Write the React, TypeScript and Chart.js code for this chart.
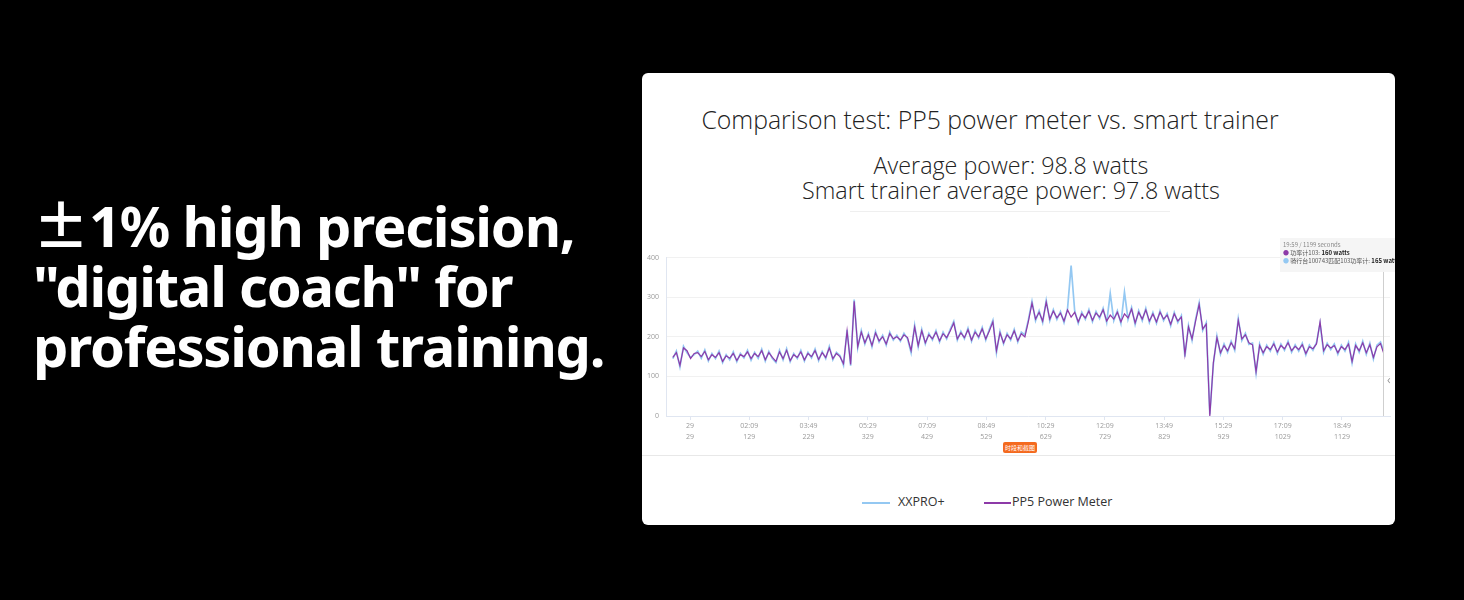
import React, { useEffect, useRef } from "react";
import { Chart, registerables } from "chart.js";

Chart.register(...registerables);

// ---- data ----
const SAMPLE_STEP = 6; // seconds between samples
const LAST_SECOND = 1199;

const pp5Watts = [
  148, 160, 128, 172, 165, 145, 158, 160, 150, 163, 142, 155, 148, 160, 138, 152, 146, 158, 140, 155,
  150, 162, 145, 158, 150, 165, 142, 160, 148, 138, 162, 145, 166, 140, 155, 148, 162, 142, 158, 150,
  165, 143, 160, 148, 172, 145, 158,
  150, 132, 215, 130, 290, 175, 212, 185, 205, 178, 210, 190, 200, 182, 208, 195, 200, 192, 205, 198,
  165, 225, 178, 215, 185, 205, 195, 212, 190, 208, 198, 215, 235, 195, 210, 198, 218, 192, 212, 200,
  220, 195, 215, 238, 165, 210, 185, 205, 195, 215, 190, 208, 200,
  240, 285, 245, 262, 240, 288, 245, 265, 248, 260, 240, 268, 250, 262, 238, 258, 248, 265, 242, 260,
  250, 268, 240, 255, 245, 262, 238, 258, 248, 270, 235, 262, 245, 268, 240, 258, 238, 262, 245, 255,
  232, 258, 240, 250, 155, 225, 195, 240, 282, 220, 232,
  0, 135, 198, 160, 178, 165, 185, 170, 242, 195, 205, 185, 180, 112, 178, 160, 175, 168, 182, 162,
  178, 170, 185, 165, 176, 168, 180, 158, 175, 170, 182, 238, 165, 180, 172, 178, 160, 175, 168, 182,
  138, 178, 165, 185, 160, 180, 148, 175, 183, 160,
];

const xxproWatts = [
  145, 164, 124, 176, 160, 148, 155, 164, 146, 167, 139, 158, 145, 164, 135, 155, 142, 162, 137, 158,
  147, 166, 141, 161, 146, 169, 139, 163, 145, 135, 166, 142, 170, 137, 158, 145, 166, 139, 161, 147,
  169, 140, 163, 145, 176, 142, 161,
  153, 128, 218, 127, 294, 172, 216, 182, 208, 175, 214, 187, 204, 179, 212, 192, 204, 189, 209, 195,
  160, 229, 175, 219, 182, 209, 192, 216, 187, 212, 195, 219, 239, 192, 214, 195, 222, 189, 216, 197,
  224, 192, 219, 242, 160, 214, 182, 209, 192, 219, 187, 212, 205,
  244, 290, 241, 266, 236, 292, 241, 269, 244, 264, 236, 272, 380, 266, 234, 262, 244, 269, 238, 264,
  246, 272, 236, 310, 241, 266, 234, 313, 244, 274, 231, 266, 241, 272, 236, 262, 234, 266, 241, 259,
  228, 262, 236, 254, 150, 229, 191, 244, 286, 216, 236,
  4, 131, 202, 156, 182, 161, 189, 166, 246, 191, 209, 181, 184, 108, 182, 156, 179, 164, 186, 158,
  182, 166, 189, 161, 180, 164, 184, 154, 179, 166, 186, 234, 161, 184, 168, 182, 156, 179, 164, 186,
  134, 182, 161, 189, 156, 184, 144, 179, 187, 165,
];

const tickSeconds = [29, 129, 229, 329, 429, 529, 629, 729, 829, 929, 1029, 1129];
const tickClockLabels = ["29", "02:09", "03:49", "05:29", "07:09", "08:49", "10:29", "12:09", "13:49", "15:29", "17:09", "18:49"];
const tickSecondLabels = ["29", "129", "229", "329", "429", "529", "629", "729", "829", "929", "1029", "1129"];
const yTickValues = [0, 100, 200, 300, 400];

const seriesNames = ["PP5 Power Meter", "XXPRO+"];
const seriesColors = ["#8d3aa8", "#94c8f2"];

const TITLE = "Comparison test: PP5 power meter vs. smart trainer";
const SUB1 = "Average power: 98.8 watts";
const SUB2 = "Smart trainer average power: 97.8 watts";

const toPoints = (vals: number[]) =>
  vals.map((v, i) => ({ x: Math.min(i * SAMPLE_STEP, LAST_SECOND), y: v }));

const crosshairPlugin = {
  id: "crosshair",
  afterDatasetsDraw(chart: any) {
    const { ctx, chartArea, scales } = chart;
    const x = scales.x.getPixelForValue(LAST_SECOND);
    ctx.save();
    ctx.strokeStyle = "#cfcfcf";
    ctx.lineWidth = 1;
    ctx.beginPath();
    ctx.moveTo(Math.round(x) + 0.5, chartArea.top);
    ctx.lineTo(Math.round(x) + 0.5, chartArea.bottom);
    ctx.stroke();
    ctx.restore();
  },
};

function PowerChart() {
  const ref = useRef<HTMLCanvasElement | null>(null);
  useEffect(() => {
    if (!ref.current) return;
    const chart = new Chart(ref.current, {
      type: "line",
      data: {
        datasets: [
          {
            label: seriesNames[0],
            data: toPoints(pp5Watts),
            borderColor: seriesColors[0],
            borderWidth: 1.2,
            pointRadius: 0,
            tension: 0,
            order: 1,
          },
          {
            label: seriesNames[1],
            data: toPoints(xxproWatts),
            borderColor: seriesColors[1],
            borderWidth: 1.7,
            pointRadius: 0,
            tension: 0,
            order: 2,
          },
        ],
      },
      options: {
        animation: false,
        responsive: false,
        maintainAspectRatio: false,
        parsing: false as any,
        layout: { padding: { top: 17.7, right: 5, left: 0, bottom: 0 } },
        plugins: {
          legend: { display: false },
          tooltip: { enabled: false },
          title: { display: false },
        },
        scales: {
          x: {
            type: "linear",
            min: -11.5,
            max: 1210,
            afterBuildTicks: (s: any) => {
              s.ticks = tickSeconds.map((v) => ({ value: v }));
            },
            afterFit: (s: any) => {
              s.height = 34;
            },
            ticks: {
              autoSkip: false,
              maxRotation: 0,
              padding: 1,
              color: "#9a9a9a",
              font: { size: 7, family: "'Open Sans', sans-serif", lineHeight: 1.55 },
              callback: (v: any) => {
                const i = tickSeconds.indexOf(Number(v));
                return i >= 0 ? [tickClockLabels[i], tickSecondLabels[i]] : "";
              },
            },
            grid: {
              drawOnChartArea: false,
              drawTicks: true,
              tickLength: 4,
              color: "#e0e6f1",
            },
            border: { color: "#e0e6f1" },
          },
          y: {
            type: "linear",
            min: 0,
            max: 400,
            afterBuildTicks: (s: any) => {
              s.ticks = yTickValues.map((v) => ({ value: v }));
            },
            afterFit: (s: any) => {
              s.width = 24;
            },
            ticks: {
              padding: 7,
              color: "#9a9a9a",
              font: { size: 7, family: "'Open Sans', sans-serif" },
            },
            grid: { color: "#f1f1f1", drawTicks: false },
            border: { color: "#e0e6f1" },
          },
        },
      },
      plugins: [crosshairPlugin],
    });
    return () => chart.destroy();
  }, []);
  return (
    <canvas
      ref={ref}
      width={753}
      height={210}
      style={{ position: "absolute", left: 642, top: 240, width: 753, height: 210 }}
    />
  );
}

export default function App() {
  const abs = (s: React.CSSProperties): React.CSSProperties => ({ position: "absolute", ...s });
  return (
    <div
      style={{
        position: "fixed",
        left: 0,
        top: 0,
        width: 1464,
        height: 600,
        background: "#000",
        overflow: "hidden",
        fontFamily: "'Open Sans', sans-serif",
      }}
    >
      <div
        style={abs({
          left: 33,
          top: 193,
          color: "#fff",
          fontFamily: "'Noto Sans', sans-serif",
          fontWeight: 700,
          fontSize: 56,
          lineHeight: "60px",
          whiteSpace: "nowrap",
          letterSpacing: -1.2,
        })}
      >
        <div>
          <span style={{ fontFamily: "'Noto Sans CJK SC', sans-serif", fontWeight: 700, letterSpacing: 0 }}>±</span>1% high precision,
        </div>
        <div>"digital coach" for</div>
        <div>professional training.</div>
      </div>

      <div style={abs({ left: 642, top: 73, width: 753, height: 452, background: "#fff", borderRadius: 6 })} />

      <div
        style={abs({
          left: 990 - 400,
          width: 800,
          top: 103,
          textAlign: "center",
          fontSize: 24.8,
          fontWeight: 300,
          color: "#222",
          lineHeight: "32px",
          whiteSpace: "nowrap",
        })}
      >
        {TITLE}
      </div>
      <div
        style={abs({
          left: 1011 - 400,
          width: 800,
          top: 153,
          textAlign: "center",
          fontSize: 23.3,
          fontWeight: 300,
          color: "#222",
          lineHeight: "25px",
          whiteSpace: "nowrap",
        })}
      >
        <div>{SUB1}</div>
        <div>{SUB2}</div>
      </div>
      <div style={abs({ left: 850, top: 211, width: 320, height: 1, background: "#efefef" })} />

      <PowerChart />

      <div
        style={abs({
          left: 1280,
          top: 238,
          width: 115,
          height: 34,
          background: "rgba(244,244,244,0.95)",
          overflow: "hidden",
          fontSize: 6,
          lineHeight: "8px",
          color: "#555",
          whiteSpace: "nowrap",
          padding: "3px 0 0 3px",
          boxSizing: "border-box",
          fontFamily: "'Noto Sans CJK SC', 'Noto Sans', sans-serif",
        })}
      >
        <div style={{ color: "#888" }}>19:59 / 1199 seconds</div>
        <div>
          <span style={{ color: seriesColors[0] }}>● </span>功率计103: <b style={{ color: "#222" }}>160 watts</b>
        </div>
        <div>
          <span style={{ color: seriesColors[1] }}>● </span>骑行台100743匹配103功率计: <b style={{ color: "#222" }}>165 watts</b>
        </div>
      </div>
      <div style={abs({ left: 1387, top: 372, fontSize: 12, color: "#999", lineHeight: "16px" })}>‹</div>

      <div
        style={abs({
          left: 1003,
          top: 442,
          width: 34,
          height: 11,
          background: "#f46a1f",
          borderRadius: 2,
          color: "#fff",
          fontSize: 6,
          lineHeight: "11px",
          textAlign: "center",
          fontFamily: "'Noto Sans CJK SC', sans-serif",
          whiteSpace: "nowrap",
        })}
      >
        时段和截图
      </div>
      <div style={abs({ left: 642, top: 455, width: 753, height: 1, background: "#e8e8e8" })} />

      <div style={abs({ left: 862, top: 502, width: 28, height: 1.5, background: seriesColors[1] })} />
      <div style={abs({ left: 898, top: 493, fontSize: 12.5, color: "#333", lineHeight: "18px" })}>{seriesNames[1]}</div>
      <div style={abs({ left: 984, top: 502, width: 27, height: 1.5, background: seriesColors[0] })} />
      <div style={abs({ left: 1012, top: 493, fontSize: 12.5, color: "#333", lineHeight: "18px" })}>{seriesNames[0]}</div>
    </div>
  );
}
